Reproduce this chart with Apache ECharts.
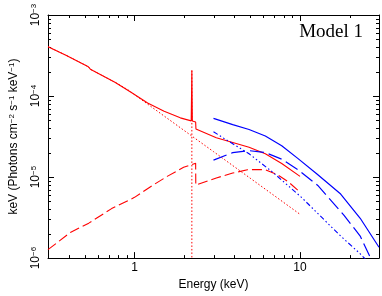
<!DOCTYPE html>
<html><head><meta charset="utf-8">
<script src="https://cdn.jsdelivr.net/npm/echarts@6/dist/echarts.min.js"></script>
<style>html,body{margin:0;padding:0;background:#fff}#c{width:382px;height:296px}</style>
</head><body><div id="c"></div>
<script>
// ---- data (Energy keV, keV (Photons cm^-2 s^-1 keV^-1)) ----
const redTotal = [[0.30,4.07e-4],[0.385,3.19e-4],[0.526,2.30e-4],[0.541,2.14e-4],[0.761,1.48e-4],[0.973,1.08e-4],[1.20,8.19e-5],[1.51,6.47e-5],[1.89,5.38e-5],[2.20,4.94e-5],[2.22,2.07e-4],[2.235,4.93e-5],[2.34,4.79e-5],[2.35,3.93e-5],[3.12,3.06e-5],[3.92,2.67e-5],[4.92,2.33e-5],[6.17,1.94e-5],[7.75,1.47e-5],[10.0,1.02e-5]];
const redPowerlaw = [[0.30,4.07e-4],[0.385,3.19e-4],[0.526,2.30e-4],[0.541,2.14e-4],[0.761,1.48e-4],[0.909,1.20e-4],[1.0,1.04e-4],[2.0,3.74e-5],[3.0,2.06e-5],[5.0,9.68e-6],[10.0,3.47e-6]];
const redLine = [[2.22,2.07e-4],[2.22,9e-7]];
const redDashed = [[0.30,1.27e-6],[0.412,2.09e-6],[0.529,2.70e-6],[0.727,4.08e-6],[1.0,5.62e-6],[1.314,8.11e-6],[1.575,1.02e-5],[1.98,1.32e-5],[2.34,1.48e-5],[2.345,7.96e-6],[3.12,9.75e-6],[3.92,1.12e-5],[4.81,1.23e-5],[5.51,1.24e-5],[6.17,1.23e-5],[7.24,1.08e-5],[8.52,8.69e-6],[10.0,6.52e-6]];
const blueTotal = [[3.0,5.31e-5],[3.92,4.43e-5],[4.92,3.86e-5],[6.17,3.21e-5],[7.75,2.44e-5],[9.73,1.69e-5],[12.6,1.10e-5],[17.6,6.17e-6],[23.1,3.10e-6],[30.0,1.36e-6]];
const blueDashed = [[3.0,1.62e-5],[3.92,2.0e-5],[4.92,2.12e-5],[6.17,2.01e-5],[7.75,1.66e-5],[9.73,1.23e-5],[12.8,7.88e-6],[18.4,3.39e-6],[23.1,1.87e-6],[26.5,1.03e-6],[27.2,8.97e-7]];
const blueDotted = [[3.0,3.63e-5],[3.42,3.06e-5],[4.92,1.94e-5],[6.76,1.17e-5],[10.2,5.62e-6],[13.4,3.24e-6],[17.6,1.87e-6],[23.1,1.13e-6],[25.1,9.5e-7]];
const xMajor = [1,10];
const xMinor = [0.4,0.5,0.6,0.7,0.8,0.9,2,3,4,5,6,7,8,9,20];
const yMajor = [1e-6,1e-5,1e-4,1e-3];
const yMinor = [2e-6,3e-6,4e-6,5e-6,6e-6,7e-6,8e-6,9e-6,2e-5,3e-5,4e-5,5e-5,6e-5,7e-5,8e-5,9e-5,2e-4,3e-4,4e-4,5e-4,6e-4,7e-4,8e-4,9e-4];
const xTitle = 'Energy (keV)';
const modelLabel = 'Model 1';

const FONT = "'Liberation Sans', Arial, sans-serif";
const RED = '#ff0000', BLUE = '#0000ff';
const xR = {min:0.3, max:30}, yR = {min:1e-6, max:1e-3};
const MINOR_LEN = 3;

function ax(pos, ticks, range) {
  return Object.assign({type:'log', logBase:10, gridIndex:0, position:pos,
    axisLine:{show:true, lineStyle:{color:'#000', width:1}},
    axisTick:{show:true, inside:true, length:6, customValues:ticks, lineStyle:{color:'#000', width:1}},
    axisLabel:{show:false}, splitLine:{show:false}, minorTick:{show:false}}, range);
}
const xAxes = [ax('bottom', xMajor, xR), ax('top', xMajor, xR)];
const yAxes = [ax('left', yMajor, yR), ax('right', yMajor, yR)];
xAxes[0].axisLabel = {show:true, customValues:xMajor, formatter:v=>String(v), margin:4, color:'#000', fontSize:12, fontFamily:FONT};
xAxes[0].name = xTitle; xAxes[0].nameLocation = 'middle'; xAxes[0].nameGap = 17;
xAxes[0].nameTextStyle = {color:'#000', fontSize:12, fontFamily:FONT};
yAxes[0].axisLabel = {show:true, customValues:yMajor, rotate:90, margin:6,
  formatter:v=>'{b|10}{s|\u2212' + Math.round(-Math.log10(v)) + '}',
  rich:{b:{fontSize:12, fontFamily:FONT, color:'#000'}, s:{fontSize:8, fontFamily:FONT, color:'#000', verticalAlign:'top'}}};
yAxes[0].name = '{n|keV (Photons cm}{s|\u22122}{n| s}{s|\u22121}{n| keV}{s|\u22121}{n|)}';
yAxes[0].nameLocation = 'middle'; yAxes[0].nameGap = 28;
yAxes[0].nameTextStyle = {rich:{n:{fontSize:12, fontFamily:FONT, color:'#000'}, s:{fontSize:8, fontFamily:FONT, color:'#000', verticalAlign:'top'}}};

function ln(data, color, type, width) {
  return {type:'line', data:data, xAxisIndex:0, yAxisIndex:0, symbol:'none', showSymbol:false, silent:true,
    clip:true, animation:false, smooth:false, lineStyle:{color:color, width:width, type:type}};
}
const tickStyle = {stroke:'#000', lineWidth:1};
function minorTicks(values, isX) {
  return {type:'custom', xAxisIndex:0, yAxisIndex:0, silent:true, clip:false, animation:false,
    data: values.map(v => isX ? [v, 1e-4] : [1, v]),
    encode:{x:0, y:1},
    renderItem:function(params, api){
      const cs = params.coordSys;
      if (isX) {
        const px = Math.round(api.coord([api.value(0), 1e-4])[0]) + 0.5;
        const yb = cs.y + cs.height, yt = cs.y;
        return {type:'group', children:[
          {type:'line', shape:{x1:px, y1:yb, x2:px, y2:yb - MINOR_LEN}, style:tickStyle},
          {type:'line', shape:{x1:px, y1:yt, x2:px, y2:yt + MINOR_LEN}, style:tickStyle}]};
      } else {
        const py = Math.round(api.coord([1, api.value(1)])[1]) + 0.5;
        const xl = cs.x, xr = cs.x + cs.width;
        return {type:'group', children:[
          {type:'line', shape:{x1:xl, y1:py, x2:xl + MINOR_LEN, y2:py}, style:tickStyle},
          {type:'line', shape:{x1:xr, y1:py, x2:xr - MINOR_LEN, y2:py}, style:tickStyle}]};
      }
    }};
}
const chart = echarts.init(document.getElementById('c'), null, {renderer:'canvas'});
chart.setOption({
  animation:false,
  backgroundColor:'#fff',
  grid:{left:42, top:15, right:3, bottom:30, containLabel:false},
  xAxis:xAxes, yAxis:yAxes,
  graphic:[{type:'text', right:19, top:23, style:{text:modelLabel, font:"19px 'Liberation Serif', 'Times New Roman', serif", fill:'#000'}}],
  series:[
    minorTicks(xMinor, true),
    minorTicks(yMinor, false),
    ln(redPowerlaw, RED, [1.5,2], 1),
    ln(redLine, RED, [1.5,2], 1),
    ln(redDashed, RED, [10,4], 1.1),
    ln(redTotal, RED, 'solid', 1.1),
    ln(blueDotted, BLUE, [5,2.5,1.5,2.5,1.5,2.5,1.5,2.5], 1.1),
    ln(blueDashed, BLUE, [14,5], 1.2),
    ln(blueTotal, BLUE, 'solid', 1.2)
  ]
});
</script></body></html>
